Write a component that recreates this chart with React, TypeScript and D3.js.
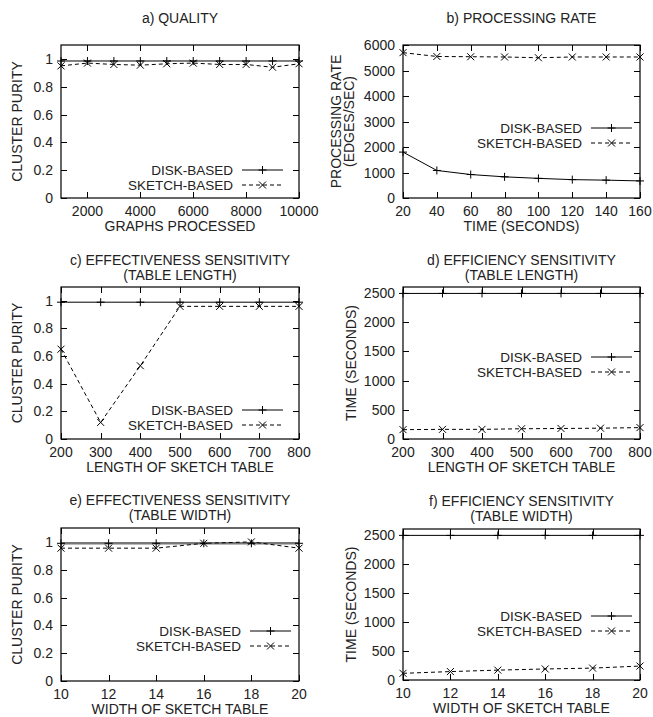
import React, { useEffect, useRef } from "react";
import * as d3 from "d3";

// a) quality
const graphsProcessed = [1000, 2000, 3000, 4000, 5000, 6000, 7000, 8000, 9000, 10000];
const qualityDisk = [0.985, 0.985, 0.985, 0.985, 0.985, 0.985, 0.985, 0.985, 0.985, 0.985];
const qualitySketch = [0.95, 0.97, 0.96, 0.955, 0.965, 0.97, 0.96, 0.96, 0.94, 0.965];

// b) processing rate
const timeSeconds = [20, 40, 60, 80, 100, 120, 140, 160];
const rateDisk = [1800, 1080, 920, 830, 770, 720, 700, 670];
const rateSketch = [5700, 5550, 5540, 5530, 5500, 5530, 5530, 5530];

// c) + d) table length
const tableLength = [200, 300, 400, 500, 600, 700, 800];
const lengthPurityDisk = [0.99, 0.99, 0.99, 0.99, 0.99, 0.99, 0.99];
const lengthPuritySketch = [0.65, 0.12, 0.53, 0.96, 0.96, 0.96, 0.96];
const lengthTimeDisk = [2490, 2490, 2490, 2490, 2490, 2490, 2490];
const lengthTimeSketch = [160, 165, 165, 175, 180, 185, 195];

// e) + f) table width
const tableWidth = [10, 12, 14, 16, 18, 20];
const widthPurityDisk = [0.99, 0.99, 0.99, 0.99, 0.99, 0.99];
const widthPuritySketch = [0.955, 0.955, 0.955, 0.99, 1.0, 0.955];
const widthTimeDisk = [2490, 2490, 2490, 2490, 2490, 2490];
const widthTimeSketch = [115, 145, 170, 190, 205, 240];

const purityTicks = [0, 0.2, 0.4, 0.6, 0.8, 1];
const timeTicks = [0, 500, 1000, 1500, 2000, 2500];
const seriesNames = ["DISK-BASED", "SKETCH-BASED"];

const FONT = "'Liberation Sans', Arial, Helvetica, sans-serif";

const panels = [
    {
        title: ["a) QUALITY"], titleY: [23], ylabel: ["CLUSTER PURITY"], xlabel: "GRAPHS PROCESSED",
        x: graphsProcessed, disk: qualityDisk, sketch: qualitySketch,
        xDomain: [1000, 10000], yDomain: [0, 1.1],
        xTicks: [2000, 4000, 6000, 8000, 10000], yTicks: purityTicks,
        box: { left: 61, right: 299, top: 45, bottom: 198 },
        legend: { lineEnd: 283, y: 170 }, ylabelX: [17],
    },
    {
        title: ["b) PROCESSING RATE"], titleY: [23], ylabel: ["PROCESSING RATE", "(EDGES/SEC)"], xlabel: "TIME (SECONDS)",
        x: timeSeconds, disk: rateDisk, sketch: rateSketch,
        xDomain: [20, 160], yDomain: [0, 6000],
        xTicks: timeSeconds, yTicks: [0, 1000, 2000, 3000, 4000, 5000, 6000],
        box: { left: 403, right: 640, top: 45, bottom: 198 },
        legend: { lineEnd: 632, y: 128 }, ylabelX: [336, 349],
    },
    {
        title: ["c) EFFECTIVENESS SENSITIVITY", "(TABLE LENGTH)"], titleY: [265, 280], ylabel: ["CLUSTER PURITY"], xlabel: "LENGTH OF SKETCH TABLE",
        x: tableLength, disk: lengthPurityDisk, sketch: lengthPuritySketch,
        xDomain: [200, 800], yDomain: [0, 1.1],
        xTicks: tableLength, yTicks: purityTicks,
        box: { left: 61, right: 299, top: 287, bottom: 439 },
        legend: { lineEnd: 283, y: 410 }, ylabelX: [17],
    },
    {
        title: ["d) EFFICIENCY SENSITIVITY", "(TABLE LENGTH)"], titleY: [265, 280], ylabel: ["TIME (SECONDS)"], xlabel: "LENGTH OF SKETCH TABLE",
        x: tableLength, disk: lengthTimeDisk, sketch: lengthTimeSketch,
        xDomain: [200, 800], yDomain: [0, 2600],
        xTicks: tableLength, yTicks: timeTicks,
        box: { left: 403, right: 640, top: 287, bottom: 439 },
        legend: { lineEnd: 632, y: 357 }, ylabelX: [351],
    },
    {
        title: ["e) EFFECTIVENESS SENSITIVITY", "(TABLE WIDTH)"], titleY: [505, 520], ylabel: ["CLUSTER PURITY"], xlabel: "WIDTH OF SKETCH TABLE",
        x: tableWidth, disk: widthPurityDisk, sketch: widthPuritySketch,
        xDomain: [10, 20], yDomain: [0, 1.1],
        xTicks: tableWidth, yTicks: purityTicks,
        box: { left: 61, right: 299, top: 528, bottom: 681 },
        legend: { lineEnd: 291, y: 631 }, ylabelX: [17], thickDisk: true,
    },
    {
        title: ["f) EFFICIENCY SENSITIVITY", "(TABLE WIDTH)"], titleY: [506, 521], ylabel: ["TIME (SECONDS)"], xlabel: "WIDTH OF SKETCH TABLE",
        x: tableWidth, disk: widthTimeDisk, sketch: widthTimeSketch,
        xDomain: [10, 20], yDomain: [0, 2600],
        xTicks: tableWidth, yTicks: timeTicks,
        box: { left: 403, right: 640, top: 529, bottom: 680 },
        legend: { lineEnd: 632, y: 616 }, ylabelX: [351],
    },
];

function drawPlus(g: any, x: number, y: number) {
    g.append("path").attr("d", `M${x - 4},${y}H${x + 4}M${x},${y - 4}V${y + 4}`)
        .attr("stroke", "#000").attr("stroke-width", 1).attr("fill", "none");
}

function drawCross(g: any, x: number, y: number) {
    const s = 3.5;
    g.append("path").attr("d", `M${x - s},${y - s}L${x + s},${y + s}M${x - s},${y + s}L${x + s},${y - s}`)
        .attr("stroke", "#000").attr("stroke-width", 1).attr("fill", "none");
}

function App() {
    const ref = useRef<SVGSVGElement>(null);

    useEffect(() => {
        document.body.style.margin = "0";
        const svg = d3.select(ref.current);
        svg.selectAll("*").remove();

        panels.forEach((p) => {
            const { left, right, top, bottom } = p.box;
            const x = d3.scaleLinear().domain(p.xDomain).range([left, right]);
            const y = d3.scaleLinear().domain(p.yDomain).range([bottom, top]);
            const g = svg.append("g").attr("font-family", FONT).attr("font-size", 14).attr("fill", "#222");

            // title
            p.title.forEach((t, i) => {
                g.append("text")
                    .attr("x", (left + right) / 2)
                    .attr("y", p.titleY[i])
                    .attr("text-anchor", "middle")
                    .text(t);
            });

            // ticks, mirrored on all sides, pointing inward
            const tl = 6;
            p.xTicks.forEach((v) => {
                const px = Math.round(x(v)) + 0.5;
                g.append("line").attr("x1", px).attr("x2", px).attr("y1", bottom).attr("y2", bottom - tl).attr("stroke", "#000");
                g.append("line").attr("x1", px).attr("x2", px).attr("y1", top).attr("y2", top + tl).attr("stroke", "#000");
                g.append("text").attr("x", x(v)).attr("y", bottom + 18).attr("text-anchor", "middle").text(String(v));
            });
            p.yTicks.forEach((v) => {
                const py = Math.round(y(v)) + 0.5;
                g.append("line").attr("x1", left).attr("x2", left + tl).attr("y1", py).attr("y2", py).attr("stroke", "#000");
                g.append("line").attr("x1", right).attr("x2", right - tl).attr("y1", py).attr("y2", py).attr("stroke", "#000");
                g.append("text").attr("x", left - 8).attr("y", y(v) + 5).attr("text-anchor", "end").text(String(v));
            });

            // axis labels
            g.append("text").attr("x", (left + right) / 2).attr("y", bottom + 33)
                .attr("text-anchor", "middle").text(p.xlabel);
            p.ylabel.forEach((t, i) => {
                const cx = p.ylabelX[i];
                const cy = (top + bottom) / 2;
                g.append("text")
                    .attr("transform", `translate(${cx + 5},${cy}) rotate(-90)`)
                    .attr("text-anchor", "middle")
                    .text(t);
            });

            // series
            const line = d3.line<number>().x((_, i) => x(p.x[i]));
            g.append("path")
                .attr("d", line.y((d) => y(d))(p.disk))
                .attr("fill", "none")
                .attr("stroke", p.thickDisk ? "#777" : "#000")
                .attr("stroke-width", p.thickDisk ? 2.5 : 1);
            g.append("path")
                .attr("d", line.y((d) => y(d))(p.sketch))
                .attr("fill", "none").attr("stroke", "#000").attr("stroke-width", 1)
                .attr("stroke-dasharray", "4,3");
            p.disk.forEach((d, i) => drawPlus(g, x(p.x[i]), y(d)));
            p.sketch.forEach((d, i) => drawCross(g, x(p.x[i]), y(d)));

            // legend
            const le = p.legend.lineEnd;
            const ls = le - 41;
            seriesNames.forEach((name, i) => {
                const ly = p.legend.y + i * 15;
                g.append("text").attr("x", ls - 9).attr("y", ly + 5)
                    .attr("font-size", 13.5).attr("text-anchor", "end").text(name);
                g.append("line").attr("x1", ls).attr("x2", le).attr("y1", ly).attr("y2", ly)
                    .attr("stroke", "#000").attr("stroke-dasharray", i === 1 ? "4,3" : null);
                if (i === 0) drawPlus(g, (ls + le) / 2, ly);
                else drawCross(g, (ls + le) / 2, ly);
            });

            // frame
            g.append("rect")
                .attr("x", left).attr("y", top)
                .attr("width", right - left).attr("height", bottom - top)
                .attr("fill", "none").attr("stroke", "#000").attr("stroke-width", 1.2);
        });
    }, []);

    return <svg ref={ref} width={653} height={717} style={{ display: "block" }}></svg>;
}

export default App;
